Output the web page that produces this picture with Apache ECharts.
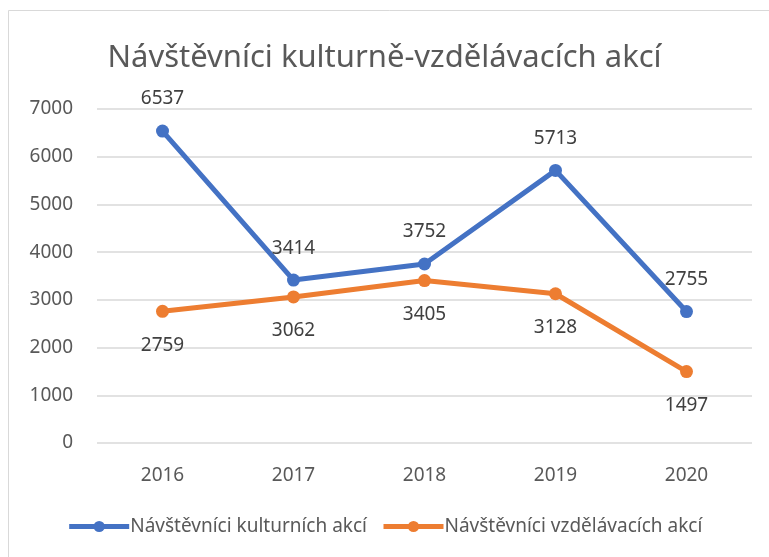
<!DOCTYPE html>
<html lang="cs">
<head>
    <meta charset="UTF-8">
    <title>Návštěvníci kulturně-vzdělávacích akcí</title>
    <style>
        html, body { margin: 0; padding: 0; background: #fff; }
        #chart { width: 769px; height: 557px; }
    </style>
    <script src="https://cdn.jsdelivr.net/npm/echarts@6/dist/echarts.min.js"></script>
</head>
<body>
    <div id="chart"></div>
    <script type="text/javascript">
        var years = ['2016', '2017', '2018', '2019', '2020'];
        var kulturni = [6537, 3414, 3752, 5713, 2755];
        var vzdelavaci = [2759, 3062, 3405, 3128, 1497];
        var nameKulturni = 'Návštěvníci kulturních akcí';
        var nameVzdelavaci = 'Návštěvníci vzdělávacích akcí';

        var font = '"Noto Sans", sans-serif';
        var myChart = echarts.init(document.getElementById('chart'));
        var option = {
            backgroundColor: '#fff',
            animation: false,
            graphic: [{
                type: 'rect',
                shape: { x: 8.5, y: 10.5, width: 900, height: 700 },
                style: { fill: 'none', stroke: '#d9d9d9', lineWidth: 1 },
                silent: true
            }],
            title: {
                text: 'Návštěvníci kulturně-vzdělávacích akcí',
                left: 'center',
                top: 38,
                textStyle: { fontFamily: font, fontSize: 31, fontWeight: 'normal', color: '#595959' }
            },
            legend: {
                bottom: 16,
                left: 'center',
                itemWidth: 60,
                itemHeight: 14,
                itemGap: 14,
                lineStyle: { width: 5 },
                textStyle: { fontFamily: font, fontSize: 19, color: '#595959', padding: [0, 0, 0, -4] },
                data: [nameKulturni, nameVzdelavaci]
            },
            grid: { left: 97, right: 17, top: 109, bottom: 114 },
            xAxis: {
                type: 'category',
                data: years,
                axisLine: { show: false },
                axisTick: { show: false },
                axisLabel: { fontFamily: font, fontSize: 19, color: '#595959', margin: 23 }
            },
            yAxis: {
                type: 'value',
                min: 0,
                max: 7000,
                interval: 1000,
                axisLine: { show: false },
                axisTick: { show: false },
                axisLabel: { fontFamily: font, fontSize: 19, color: '#595959', margin: 24, formatter: function (v) { return String(v); } },
                splitLine: { lineStyle: { color: '#d9d9d9', width: 1.5 } }
            },
            series: [{
                name: nameKulturni,
                type: 'line',
                data: kulturni,
                color: '#4472c4',
                symbol: 'circle',
                symbolSize: 13,
                lineStyle: { width: 5 },
                label: { show: true, position: 'top', distance: 16, fontFamily: font, fontSize: 19, color: '#404040' }
            }, {
                name: nameVzdelavaci,
                type: 'line',
                data: vzdelavaci,
                color: '#ed7d31',
                symbol: 'circle',
                symbolSize: 13,
                lineStyle: { width: 5 },
                label: { show: true, position: 'bottom', distance: 18, fontFamily: font, fontSize: 19, color: '#404040' }
            }]
        };
        myChart.setOption(option);
    </script>
</body>
</html>
